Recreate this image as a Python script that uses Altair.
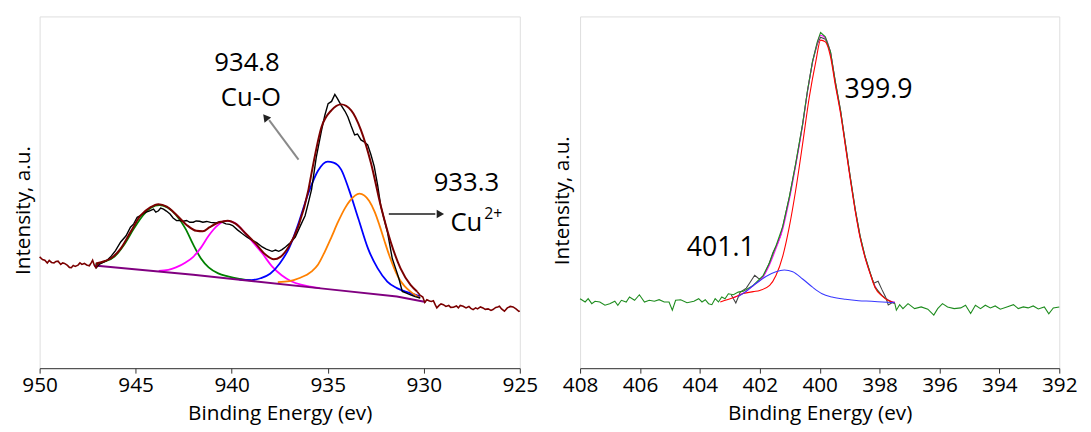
import altair as alt
import pandas as pd

# ---------------- Left panel (Cu 2p) ----------------
cu_tail_left_E = [950.0, 949.85, 949.73, 949.6, 949.5, 949.38, 949.25, 949.15, 949.04, 948.9, 948.8, 948.7,
                  948.55, 948.45, 948.35, 948.25, 948.15, 948.0, 947.9, 947.8, 947.67, 947.55, 947.41, 947.3,
                  947.24, 947.15, 947.07, 946.95]
cu_tail_left_I = [124.7, 122, 121.3, 118.5, 121, 119, 118.5, 120, 120.3, 117, 118.5, 118,
                  116, 114, 113.7, 116, 115, 116.3, 118.5, 117, 118, 116.5, 115.7, 119,
                  121.3, 116, 113.7, 118]
cu_tail_right_E = [930.35, 930.2, 930.05, 929.95, 929.84, 929.7, 929.6, 929.5, 929.4, 929.32, 929.2, 929.1,
                   928.98, 928.85, 928.7, 928.6, 928.46, 928.3, 928.2, 928.1, 927.95, 927.8, 927.65, 927.55,
                   927.43, 927.3, 927.2, 927.05, 926.92, 926.8, 926.65, 926.5, 926.4, 926.25, 926.15, 926.06,
                   925.95, 925.8, 925.65, 925.5, 925.35, 925.2, 925.05, 925.0]
cu_tail_right_I = [89.7, 86, 84, 78.5, 81.3, 80, 79.5, 80.3, 76, 73, 75.5, 77,
                   76.3, 74.5, 75.5, 73.5, 73.7, 75, 73, 75.5, 74.7, 73, 74.5, 72.5,
                   71.3, 73, 72, 74, 73, 71.5, 72, 70.5, 71.3, 73.5, 74, 74.7,
                   72, 69.7, 73, 74.5, 74, 72, 69.5, 70]

cu_env_E = [947.07, 946.6, 946.3, 945.78, 945.27, 944.75, 944.24, 943.81, 943.38, 942.87, 942.35, 941.84,
            941.5, 941.15, 940.64, 940.21, 939.78, 939.26, 938.75, 938.24, 937.81, 937.46, 937.04, 936.52,
            936.0, 935.84, 935.32, 934.81, 934.3, 933.78, 933.27, 932.75, 932.24, 931.72, 931.21, 930.69,
            930.35]
cu_env_I = [118, 120.5, 123, 133, 149.7, 166.3, 174.7, 178, 175.5, 167, 157, 151,
            150.5, 154.7, 159.7, 161.3, 158, 148, 138, 127, 122.3, 124.7, 134.7, 156.3,
            193, 209.7, 256.3, 273, 279, 273, 253, 219.7, 176.3, 139.7, 113, 96.3,
            89.7]

cu_raw_E = [947.07, 946.9, 946.7, 946.5, 946.3, 946.05, 945.78, 945.5, 945.27, 945.1, 944.92, 944.7,
            944.5, 944.3, 944.07, 943.95, 943.81, 943.7, 943.55, 943.4, 943.21, 943.05, 942.87, 942.7,
            942.53, 942.35, 942.18, 942.0, 941.85, 941.67, 941.5, 941.3, 941.1, 940.81, 940.6, 940.3,
            940.1, 939.95, 939.7, 939.44, 939.2, 938.92, 938.7, 938.41, 938.2, 937.9, 937.72, 937.55,
            937.38, 937.2, 936.95, 936.69, 936.45, 936.18, 936.0, 935.84, 935.6, 935.32, 935.15, 934.98,
            934.8, 934.63, 934.5, 934.3, 934.1, 933.95, 933.78, 933.6, 933.45, 933.27, 933.1, 932.92,
            932.75, 932.58, 932.4, 932.24, 932.05, 931.89, 931.64, 931.45, 931.3, 931.12, 930.9, 930.69,
            930.45, 930.18]
cu_raw_I = [113, 117, 119, 121, 124.7, 131, 139.7, 146, 154.7, 158, 164.7, 167,
            169.7, 171, 173, 170, 171.3, 174, 173, 171, 168, 164, 161.3, 161.5,
            160.7, 161.5, 159.7, 159.7, 161, 160.7, 159.7, 160.5, 159.5, 159, 160.5, 158,
            157.5, 156.3, 152, 148, 144.5, 141.3, 139, 134.7, 132.5, 130.3, 131.5, 130.3,
            132, 134.7, 139, 144.7, 155, 166.3, 180, 193, 225, 253, 268, 279.7,
            282, 289, 285, 278, 272, 266.3, 257, 248, 249, 243, 241, 238,
            228, 216.3, 197, 176.3, 162, 149.7, 123, 112, 103, 89.7, 88, 86.3,
            84.5, 83]

cu_base_E = [947.15, 942.0, 935.0, 931.4, 929.9]
cu_base_I = [116, 106.5, 92, 84.5, 79]

cu_green_E = [947.1, 946.6, 946.1, 945.6, 945.1, 944.6, 944.2, 943.75, 943.3, 942.9, 942.4, 942.0,
              941.6, 941.2, 940.7, 940.2, 939.6, 939.0]
cu_green_I = [117, 120, 125, 137, 153, 167, 174.5, 177, 174, 167, 153, 137,
              123, 114, 108, 105, 102.5, 100.8]

cu_mag_E = [943.8, 943.3, 942.9, 942.4, 942.0, 941.6, 941.2, 940.7, 940.3, 939.9, 939.4, 938.9,
            938.4, 937.9, 937.4, 936.9, 936.4, 935.9, 935.4]
cu_mag_I = [110.5, 111.5, 114, 119, 124.7, 134, 146, 157, 161, 159.5, 151, 139.5,
            128, 115, 106, 100, 96.5, 94.5, 93]

cu_blue_E = [939.6, 939.0, 938.5, 938.0, 937.5, 937.0, 936.5, 936.0, 935.5, 935.0, 934.7, 934.3,
             933.9, 933.4, 932.9, 932.4, 931.9, 931.4, 930.7, 930.2]
cu_blue_I = [101.6, 101.2, 103, 107.5, 118, 134, 160, 189.5, 212, 221, 220, 213,
             193, 163, 133, 113, 99.7, 93, 88, 84.7]

cu_orange_E = [937.6, 937.0, 936.5, 935.85, 935.5, 935.15, 934.8, 934.47, 934.1, 933.85, 933.35, 932.84,
               932.55, 932.3, 932.05, 931.8, 931.55, 931.3, 931.0, 930.7, 930.2]
cu_orange_I = [99, 100, 103, 109.7, 117, 130, 145, 159.7, 174, 181.3, 188.7, 181.3,
               170, 156.3, 141, 126.3, 113.5, 103, 95, 89.7, 83]

cu_ticks = [950, 945, 940, 935, 930, 925]

cu_text = ["934.8", "Cu-O", "933.3"]
cu_text_E = [939.2, 939.0, 927.78]
cu_text_I = [313, 277, 191.3]

cu_arrow_E = [936.52, 931.82]
cu_arrow_I = [223, 168]
cu_arrow_E2 = [938.05, 929.4]
cu_arrow_I2 = [263, 168]
cu_head_E = [938.2, 929.2]
cu_head_I = [265, 168]
cu_head_angle = [321.5, 90]
cu_arrow_col = ["#8a8a8a", "#555555"]

# ---------------- Right panel (N 1s) ----------------
n_green_E = [408.0, 407.83, 407.73, 407.61, 407.5, 407.34, 407.17, 407.01, 406.84, 406.74, 406.62, 406.46,
             406.35, 406.18, 406.02, 405.85, 405.69, 405.52, 405.36, 405.19, 405.03, 404.92, 404.81, 404.64,
             404.43, 404.2, 404.04, 403.93, 403.82, 403.71, 403.6, 403.49, 403.38, 403.27, 403.16, 403.05,
             402.88, 402.72, 402.55, 402.22, 401.89, 401.67, 401.46, 401.23, 401.01, 400.8, 400.57, 400.41,
             400.24, 400.08, 399.97, 399.81, 399.64, 399.48, 399.3, 399.14, 398.98, 398.81, 398.65, 398.49,
             398.32, 398.15, 397.93, 397.71, 397.49, 397.44, 397.33, 397.22, 397.05, 396.83, 396.61, 396.39,
             396.19, 396.06, 395.9, 395.73, 395.51, 395.29, 395.13, 394.96, 394.8, 394.63, 394.47, 394.3,
             394.14, 393.97, 393.75, 393.53, 393.37, 393.2, 393.04, 392.87, 392.7, 392.5, 392.35, 392.2, 392.0]
n_green_I = [70.3, 67, 70.3, 65.3, 67.7, 67, 63.7, 65.3, 67.7, 63.7, 68.7, 67,
             72, 68.7, 74.3, 67, 68.7, 67.7, 69.3, 67, 67, 58.7, 68.7, 69.3,
             66.3, 67.7, 70.3, 67, 69.3, 65.3, 64.3, 70.3, 67, 72, 70.3, 75.3,
             74.3, 77, 78, 83.7, 93.7, 107, 123.7, 143.7, 173.7, 207, 247, 280.3,
             310.3, 330.3, 339.7, 335.3, 320.3, 290.3, 260.3, 227, 193.7, 160.3, 133.7, 113.7,
             97, 82, 73.7, 68.7, 65.3, 58.7, 64.3, 60.3, 65.3, 60.3, 62, 59.7,
             53.7, 60.3, 65.3, 62, 60.3, 61, 63.7, 55.3, 63.7, 60.3, 63.7, 61,
             63, 59.7, 62, 64.3, 60.3, 62, 61, 63, 60, 62, 55, 61, 62]

n_red_E = [403.32, 402.88, 402.55, 402.22, 402.0, 401.67, 401.46, 401.23, 401.01, 400.8, 400.57, 400.35,
           400.13, 399.97, 399.81, 399.64, 399.48, 399.3, 399.14, 398.98, 398.81, 398.65, 398.49, 398.32,
           398.15, 397.93, 397.71, 397.49]
n_red_I = [67, 71.5, 75.5, 77.5, 78.7, 83.7, 93.7, 113.7, 143.7, 180.3, 227, 273.7,
           310.3, 332, 330.3, 315.3, 287, 257, 224.5, 191.5, 158.5, 132, 112.5, 96,
           81.5, 73.5, 68.5, 66]

n_blue_E = [402.72, 402.44, 402.22, 402.0, 401.78, 401.46, 401.18, 400.9, 400.57, 400.24, 399.92, 399.59,
            399.14, 398.7, 398.27, 397.9, 397.49]
n_blue_I = [72.5, 78, 83.7, 88.5, 93, 97.7, 99.3, 97.7, 90.3, 82, 75.3, 72,
            69.7, 68.3, 67.7, 67, 66.3]

n_black_E = [402.95, 402.8, 402.65, 402.45, 402.3, 402.17, 402.05, 401.95, 401.84, 401.7, 401.56, 401.4,
             401.3, 401.23, 401.01, 400.8, 400.57, 400.41, 400.24, 400.08, 399.97, 399.81, 399.64, 399.48,
             399.3, 399.14, 398.98, 398.81, 398.65, 398.49, 398.35, 398.2, 398.05, 397.93, 397.8, 397.71,
             397.6, 397.5]
n_black_I = [74, 66, 77, 81, 88, 94, 91, 90, 95.3, 105, 117, 127,
             135, 143.7, 173.7, 207, 247, 280.3, 310.3, 328, 335, 333, 320.3, 290.3,
             260.3, 227, 193.7, 160.3, 133.7, 113.7, 100, 86, 88, 80, 72, 64,
             66, 67]

n_mag_E = [402.9, 402.5, 402.2, 401.9, 401.67, 401.46, 401.23, 401.01, 400.8, 400.57, 400.41, 400.24,
           400.08, 399.97, 399.81, 399.64, 399.48, 399.3, 399.14, 398.98, 398.81, 398.65, 398.49, 398.32,
           398.15, 397.93, 397.71, 397.49]
n_mag_I = [71, 77, 84, 92, 105, 121, 141, 171, 205, 246, 279, 309,
           329, 337, 334, 319, 289, 259, 226, 192.5, 159.5, 133, 113, 96.5,
           83, 74, 69, 66.5]

n_ticks = [408, 406, 404, 402, 400, 398, 396, 394, 392]

n_text = ["399.9", "401.1"]
n_text_E = [398.04, 403.3]
n_text_I = [273.7, 113.7]

FONT = "Open Sans"
W_L, W_R, H = 486, 485, 356


def xenc(domain, ticks):
    return alt.X("E:Q",
                 scale=alt.Scale(domain=domain, reverse=True, nice=False, zero=False),
                 axis=alt.Axis(values=ticks, title="Binding Energy (ev)", grid=False, format="d",
                               tickSize=5, labelPadding=2, titlePadding=7, domainColor="#333333",
                               tickColor="#333333", labelColor="black", titleColor="black",
                               labelFontSize=21, titleFontSize=21, labelFont=FONT, titleFont=FONT,
                               titleFontWeight="normal", labelFlush=False))


def yenc(domain, tpad, ty):
    return alt.Y("I:Q",
                 scale=alt.Scale(domain=domain, nice=False, zero=False),
                 axis=alt.Axis(title="Intensity, a.u.", labels=False, ticks=False, domain=False, grid=False,
                               titlePadding=tpad, titleFontSize=21, titleFont=FONT, titleColor="black",
                               titleFontWeight="normal", titleY=ty))


def line(E, I, color, width, X, Y, interp="linear"):
    df = pd.DataFrame({"E": E, "I": I})
    return alt.Chart(df).mark_line(color=color, strokeWidth=width, interpolate=interp).encode(x=X, y=Y)


XL = xenc([925, 950], cu_ticks)
YL = yenc([12, 368], 6, 196)

left_layers = [
    line(cu_green_E, cu_green_I, "#008000", 1.8, XL, YL, "monotone"),
    line(cu_mag_E, cu_mag_I, "#FF00FF", 1.8, XL, YL, "monotone"),
    line(cu_blue_E, cu_blue_I, "#0000FF", 1.8, XL, YL, "monotone"),
    line(cu_orange_E, cu_orange_I, "#FF8000", 1.8, XL, YL, "monotone"),
    line(cu_base_E, cu_base_I, "#800080", 2, XL, YL),
    line(cu_raw_E, cu_raw_I, "#000000", 1.4, XL, YL),
    line(cu_env_E, cu_env_I, "#7B0000", 2, XL, YL, "monotone"),
    line(cu_tail_left_E, cu_tail_left_I, "#7B0000", 1.6, XL, YL),
    line(cu_tail_right_E, cu_tail_right_I, "#7B0000", 1.6, XL, YL),
]

arrows = pd.DataFrame({"E": cu_arrow_E, "I": cu_arrow_I, "E2": cu_arrow_E2, "I2": cu_arrow_I2,
                       "c": cu_arrow_col})
arrow_lines = alt.Chart(arrows).mark_rule(strokeWidth=2).encode(
    x=XL, y=YL, x2="E2:Q", y2="I2:Q", color=alt.Color("c:N", scale=None))
heads = pd.DataFrame({"E": cu_head_E, "I": cu_head_I, "a": cu_head_angle})
arrow_heads = alt.Chart(heads).mark_point(shape="triangle", filled=True, size=75, opacity=1,
                                          color="#222222").encode(
    x=XL, y=YL, angle=alt.Angle("a:Q", scale=None))

ltext = pd.DataFrame({"E": cu_text_E, "I": cu_text_I, "t": cu_text})
left_text = alt.Chart(ltext).mark_text(font=FONT, fontSize=26, color="black", align="center",
                                       baseline="alphabetic").encode(x=XL, y=YL, text="t:N")
cu_lbl = pd.DataFrame({"E": [926.95], "I": [151.3], "t": ["Cu"]})
cu_label = alt.Chart(cu_lbl).mark_text(font=FONT, fontSize=26, color="black", align="right",
                                       baseline="alphabetic").encode(x=XL, y=YL, text="t:N")
sup = pd.DataFrame({"E": [926.85], "I": [163], "t": ["2+"]})
sup_label = alt.Chart(sup).mark_text(font=FONT, fontSize=16, color="black", align="left",
                                     baseline="alphabetic").encode(x=XL, y=YL, text="t:N")

left = alt.layer(*left_layers, arrow_lines, arrow_heads, left_text, cu_label, sup_label).properties(
    width=W_L, height=H)

XR = xenc([392, 408], n_ticks)
YR = yenc([0, 356], 8, 186)

right_layers = [
    line(n_black_E, n_black_I, "#444444", 1.1, XR, YR),
    line(n_mag_E, n_mag_I, "#FF00FF", 1.1, XR, YR, "monotone"),
    line(n_green_E, n_green_I, "#1E8C1E", 1.1, XR, YR),
    line(n_red_E, n_red_I, "#FF0000", 1.1, XR, YR, "monotone"),
    line(n_blue_E, n_blue_I, "#3838FF", 1.1, XR, YR, "monotone"),
]
rtext = pd.DataFrame({"E": n_text_E, "I": n_text_I, "t": n_text})
right_text = alt.Chart(rtext).mark_text(font=FONT, fontSize=27, color="black", align="center",
                                        baseline="alphabetic").encode(x=XR, y=YR, text="t:N")
right = alt.layer(*right_layers, right_text).properties(width=W_R, height=H)

chart = alt.hconcat(left, right, spacing=61, bounds="flush").resolve_scale(x="independent", y="independent")
chart = chart.properties(padding={"left": 4, "top": 5, "right": 5, "bottom": 0}).configure_view(
    stroke="#333333", strokeWidth=1).configure(background="white")

chart.save("out.html", embed_options={"renderer": "svg", "actions": False})
